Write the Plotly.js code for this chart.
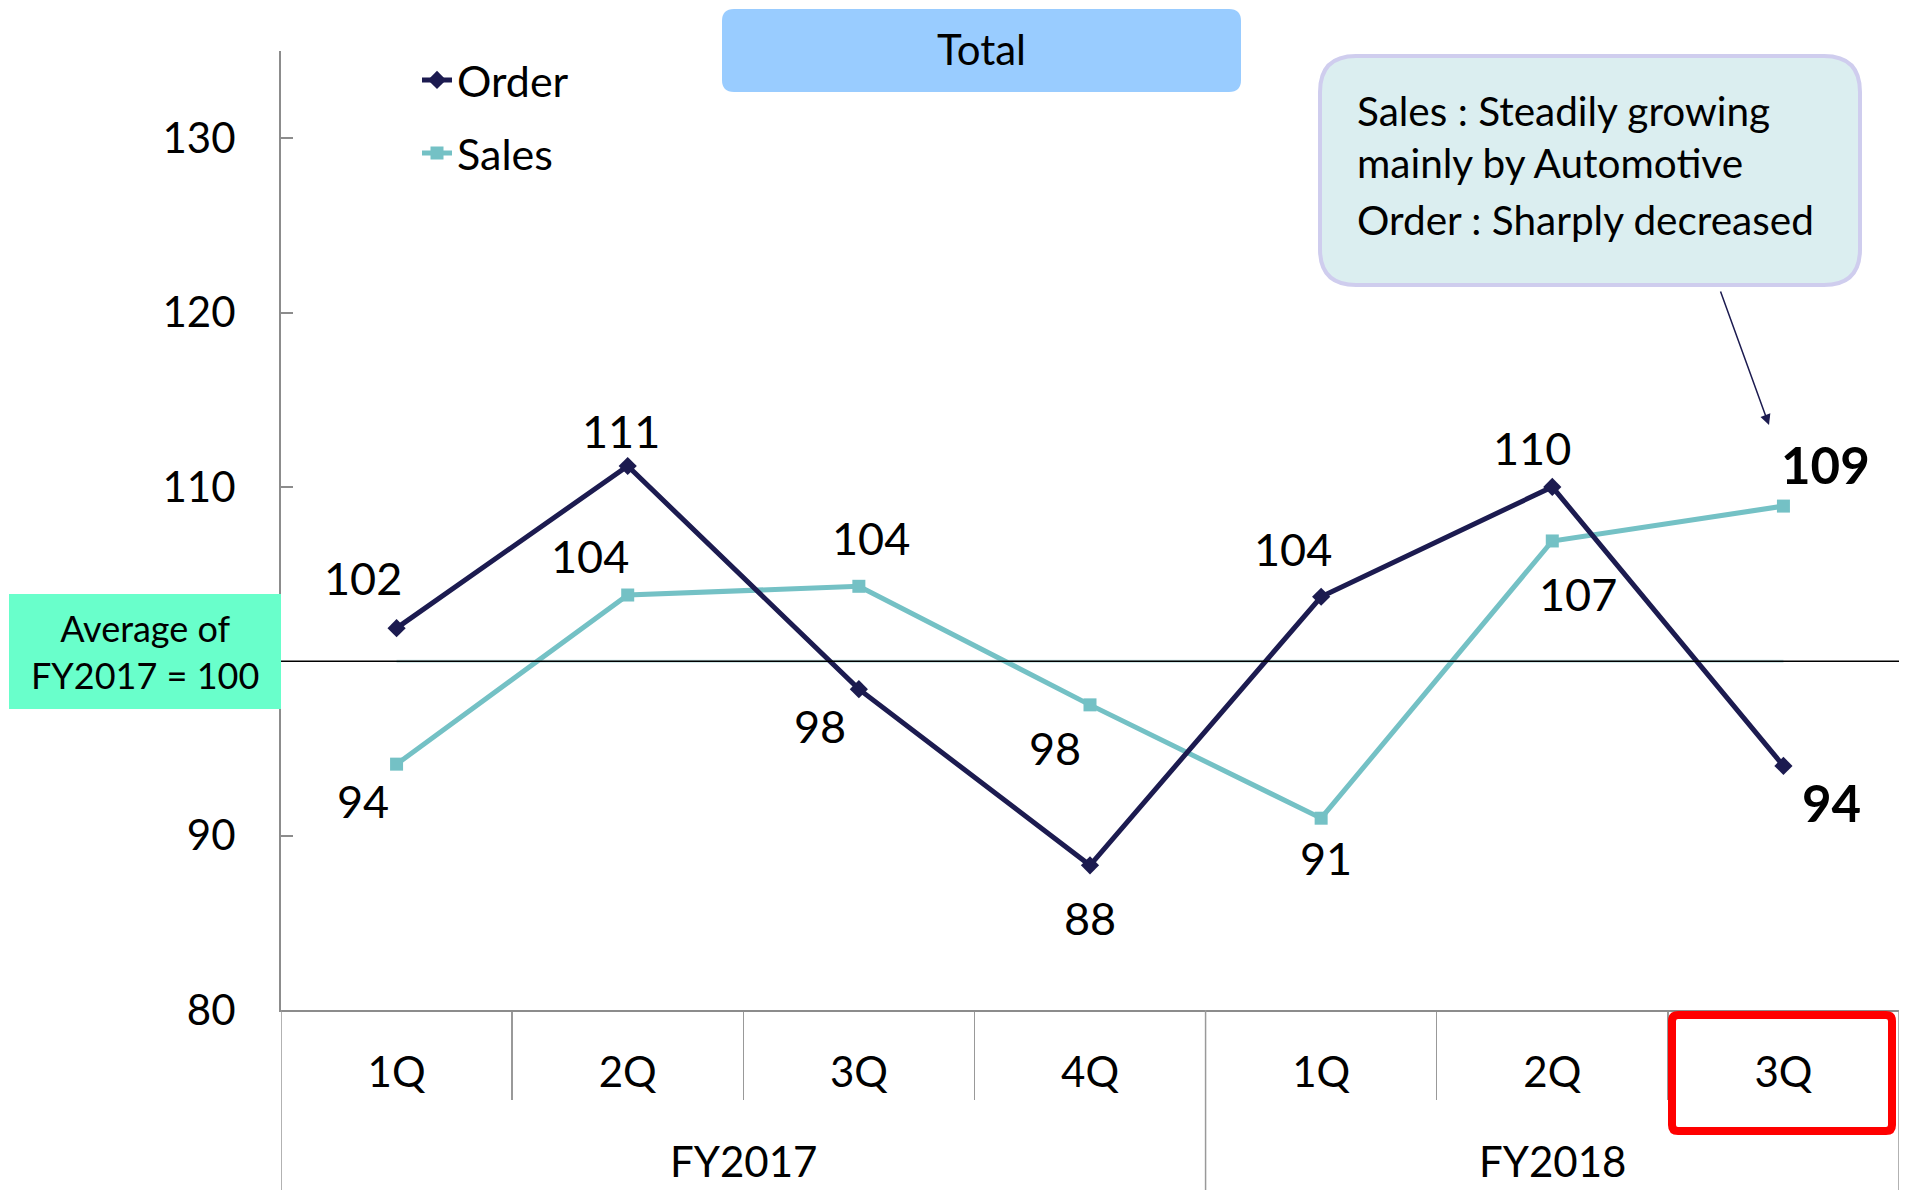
<!DOCTYPE html>
<html>
<head>
<meta charset="utf-8">
<script src="https://cdn.plot.ly/plotly-3.0.1.min.js"></script>
<style>html,body{margin:0;padding:0;background:#fff;}#chart{width:1917px;height:1190px;}</style>
</head>
<body>
<div id="chart"></div>
<script>
// ---- data ----
const quarters = ['1Q','2Q','3Q','4Q','1Q','2Q','3Q'];
const fiscalYears = ['FY2017','FY2017','FY2017','FY2017','FY2018','FY2018','FY2018'];
const orderIndex = [101.9, 111.2, 98.4, 88.3, 103.7, 110.0, 94.0];
const salesIndex = [94.1, 103.8, 104.3, 97.5, 91.0, 106.9, 108.9];
const baselineValue = 100;
const yTickValues = [80, 90, 110, 120, 130];
const titleText = 'Total';
const baselineText = ['Average of', 'FY2017 = 100'];
const commentLines = ['Sales : Steadily growing', 'mainly by Automotive', 'Order : Sharply decreased'];

// ---- styling / layout ----
const W = 1917, H = 1190;
const PL = 281, PR = 1899, PT = 51, PB = 1010;
const FONT = 'Lato, "Open Sans", sans-serif';
const ORDER_COLOR = '#1c1b50';
const SALES_COLOR = '#74c1c5';
const fx = px => (px - PL) / (PR - PL);
const fy = py => (PB - py) / (PB - PT);

function roundRect(x0, y0, x1, y1, r) {
  const p = (x, y) => fx(x) + ',' + fy(y);
  return 'M' + p(x0 + r, y0) + ' L' + p(x1 - r, y0) + ' Q' + p(x1, y0) + ' ' + p(x1, y0 + r) +
    ' L' + p(x1, y1 - r) + ' Q' + p(x1, y1) + ' ' + p(x1 - r, y1) +
    ' L' + p(x0 + r, y1) + ' Q' + p(x0, y1) + ' ' + p(x0, y1 - r) +
    ' L' + p(x0, y0 + r) + ' Q' + p(x0, y0) + ' ' + p(x0 + r, y0) + ' Z';
}

const xs = quarters.map((_, i) => i);
const last = xs.length - 1;

// label offsets (px) per point
const orderOffsets = [[-34, 50], [-7, 35], [-39, -37], [0, -53], [-28, 48], [-20, 39], [48, -37]];
const salesOffsets = [[-34, -37], [-38, 39], [12, 48], [-35, -43], [5, -40], [26, -53], [42, 42]];

const traces = [
  {x: xs, y: xs.map(() => baselineValue), mode: 'lines', line: {color: '#c4e3e4', width: 3},
   showlegend: false, hoverinfo: 'skip'},
  {x: xs, y: salesIndex, name: 'Sales', mode: 'lines+markers', legend: 'legend2',
   line: {color: SALES_COLOR, width: 5}, marker: {symbol: 'square', size: 13, color: SALES_COLOR}},
  {x: xs, y: orderIndex, name: 'Order', mode: 'lines+markers', legend: 'legend',
   line: {color: ORDER_COLOR, width: 5}, marker: {symbol: 'diamond', size: 14, color: ORDER_COLOR}}
];

const annotations = [];
function addLabels(vals, offs) {
  vals.forEach((v, i) => {
    const bold = i === last;
    annotations.push({x: i, y: v, xref: 'x', yref: 'y', showarrow: false,
      text: bold ? '<b>' + Math.round(v) + '</b>' : String(Math.round(v)),
      xshift: offs[i][0], yshift: offs[i][1],
      font: {family: FONT, size: bold ? 51 : 45, color: '#000'}});
  });
}
addLabels(orderIndex, orderOffsets);
addLabels(salesIndex, salesOffsets);

// group labels and boundaries
const groups = [...new Set(fiscalYears)];
groups.forEach(g => {
  const idx = xs.filter(i => fiscalYears[i] === g);
  const c = (idx[0] + idx[idx.length - 1]) / 2;
  annotations.push({x: c, y: fy(1161), xref: 'x', yref: 'paper', showarrow: false, text: g,
    yanchor: 'middle', font: {family: FONT, size: 42, color: '#000'}});
});
const innerBounds = [], groupBounds = [-0.5];
for (let i = 0; i < last; i++) {
  if (fiscalYears[i] === fiscalYears[i + 1]) innerBounds.push(i + 0.5); else groupBounds.push(i + 0.5);
}
groupBounds.push(last + 0.5);

// baseline box text
annotations.push({x: fx(145), y: fy(651), xref: 'paper', yref: 'paper', showarrow: false,
  text: baselineText.join('<br>'), align: 'center', xanchor: 'center', yanchor: 'middle',
  font: {family: FONT, size: 36, color: '#000'}});

// comment lines
const commentY = [110, 163, 219];
commentLines.forEach((t, i) => {
  annotations.push({x: fx(1355), y: fy(commentY[i]), xref: 'paper', yref: 'paper', showarrow: false,
    text: t, xanchor: 'left', yanchor: 'middle', font: {family: FONT, size: 40.5, color: '#000'}});
});

// arrow from comment box
annotations.push({x: fx(1769), y: fy(425), xref: 'paper', yref: 'paper', showarrow: true,
  ax: -49, ay: -135, axref: 'pixel', ayref: 'pixel', text: '', arrowhead: 2, arrowsize: 1.4,
  arrowwidth: 1.5, arrowcolor: ORDER_COLOR});

const shapes = [
  {type: 'line', xref: 'paper', yref: 'y', x0: 0, x1: 1, y0: baselineValue, y1: baselineValue,
   line: {color: '#000', width: 1.4}, layer: 'above'},
  ...groupBounds.map(b => ({type: 'line', xref: 'x', yref: 'paper', x0: b, x1: b, y0: 0, y1: fy(H),
   line: {color: '#999', width: 1.5}})),
  {type: 'rect', xref: 'paper', yref: 'paper', x0: fx(9), x1: fx(281), y0: fy(594), y1: fy(709),
   fillcolor: '#69ffcb', line: {width: 0}, layer: 'above'},
  {type: 'path', xref: 'paper', yref: 'paper', path: roundRect(722, 9, 1241, 92, 12),
   fillcolor: '#99ccff', line: {width: 0}, layer: 'above'},
  {type: 'path', xref: 'paper', yref: 'paper', path: roundRect(1320, 56, 1860, 285, 36),
   fillcolor: '#dbeef0', line: {color: '#cfcdee', width: 4}, layer: 'above'},
  {type: 'path', xref: 'paper', yref: 'paper', path: roundRect(1672, 1015, 1892, 1131, 6),
   fillcolor: 'rgba(0,0,0,0)', line: {color: '#ff0000', width: 8}, layer: 'above'}
];

const layout = {
  width: W, height: H,
  margin: {l: PL, r: W - PR, t: PT, b: H - PB},
  paper_bgcolor: '#fff', plot_bgcolor: '#fff',
  font: {family: FONT, color: '#000'},
  title: {text: titleText, x: 981.5 / W, xref: 'container', xanchor: 'center',
          y: 1 - 50 / H, yref: 'container', yanchor: 'middle',
          font: {family: FONT, size: 42, color: '#000'}},
  xaxis: {range: [-0.5, last + 0.5], tickmode: 'array', tickvals: xs, ticktext: quarters,
          ticks: '', showgrid: false, zeroline: false, showline: true, linecolor: '#8c8c8c', linewidth: 2,
          ticklabelstandoff: 25, tickfont: {family: FONT, size: 42, color: '#000'},
          minor: {tickmode: 'array', tickvals: innerBounds, ticks: 'outside', ticklen: 88,
                  tickcolor: '#999', tickwidth: 1.5, showgrid: false}},
  yaxis: {range: [80, 135], tickmode: 'array', tickvals: yTickValues, ticks: 'inside', ticklen: 12,
          tickcolor: '#8c8c8c', tickwidth: 2, showgrid: false, zeroline: false, showline: true,
          linecolor: '#8c8c8c', linewidth: 2, ticklabelstandoff: 35,
          tickfont: {family: FONT, size: 42, color: '#000'}},
  legend: {x: fx(417), y: fy(80), xanchor: 'left', yanchor: 'middle', bgcolor: 'rgba(0,0,0,0)',
           font: {family: FONT, size: 43, color: '#000'}},
  legend2: {x: fx(417), y: fy(153), xanchor: 'left', yanchor: 'middle', bgcolor: 'rgba(0,0,0,0)',
            font: {family: FONT, size: 43, color: '#000'}},
  shapes: shapes,
  annotations: annotations
};

Plotly.newPlot('chart', traces, layout, {displayModeBar: false, staticPlot: true});
</script>
</body>
</html>
